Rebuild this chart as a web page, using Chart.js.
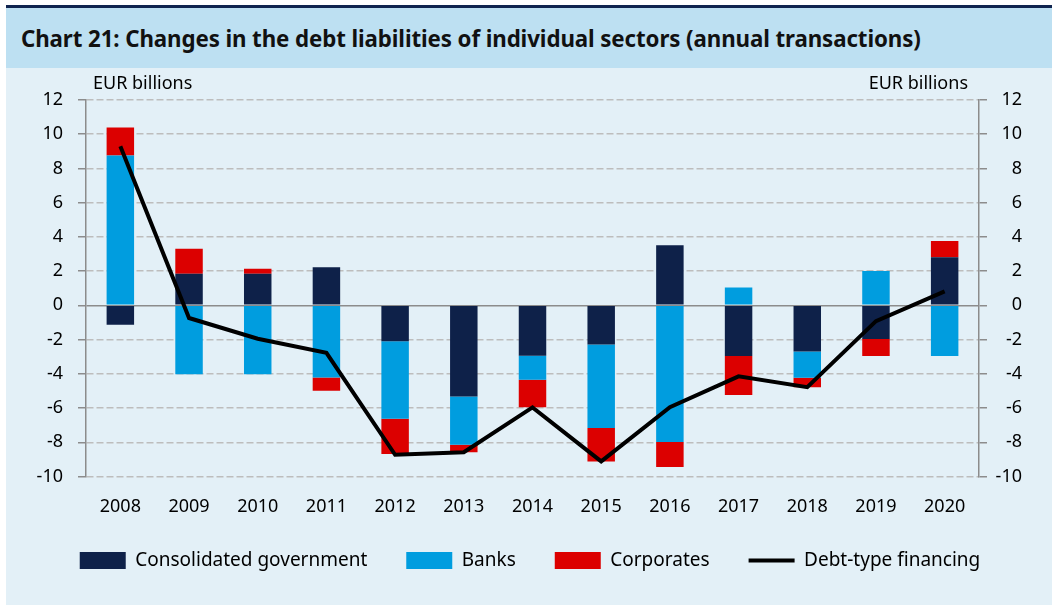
<!DOCTYPE html>
<html>
<head>
<meta charset="utf-8">
<script src="https://cdn.jsdelivr.net/npm/chart.js"></script>
<style>
  body { margin: 0; background: #fff; }
  #panel { position: absolute; left: 6px; top: 5px; width: 1046px; height: 600px; background: #e3f0f7; }
  #topline { height: 3px; background: #10244f; }
  #header { height: 60px; background: #bde0f2; font: bold 22.3px "Noto Sans", sans-serif; line-height: 61px; padding-left: 15px; color: #111; letter-spacing: -0.1px; }
  #wrap { position: relative; height: 537px; }
</style>
</head>
<body>
<div id="panel">
  <div id="topline"></div>
  <div id="header">Chart 21: Changes in the debt liabilities of individual sectors (annual transactions)</div>
  <div id="wrap"><canvas id="chart"></canvas></div>
</div>
<script>
// values, EUR billions
const years = ["2008", "2009", "2010", "2011", "2012", "2013", "2014", "2015", "2016", "2017", "2018", "2019", "2020"];
const government = [-1.13, 1.85, 1.85, 2.22, -2.09, -5.32, -2.94, -2.28, 3.51, -2.96, -2.69, -1.97, 2.81];
const banks = [8.75, -4.03, -4.03, -4.21, -4.54, -2.83, -1.41, -4.89, -7.99, 1.05, -1.54, 2.01, -2.96];
const corporates = [1.64, 1.46, 0.29, -0.78, -2.06, -0.43, -1.61, -1.95, -1.46, -2.28, -0.55, -0.99, 0.95];
const debtFinancing = [9.3, -0.74, -1.95, -2.77, -8.73, -8.58, -5.96, -9.12, -5.95, -4.15, -4.78, -0.92, 0.82];
const yMin = -10, yMax = 12, yStep = 2;

const font = "Noto Sans";

// "EUR billions" captions above both axes
const unitLabels = {
    id: "unitLabels",
    afterDraw(chart) {
        const ctx = chart.ctx;
        ctx.save();
        ctx.font = "18px '" + font + "'";
        ctx.fillStyle = "#000";
        ctx.textBaseline = "middle";
        ctx.textAlign = "left";
        ctx.fillText("EUR billions", 87, 16);
        ctx.textAlign = "right";
        ctx.fillText("EUR billions", 962, 16);
        ctx.restore();
    },
};

// legend sits a little right of centre in the original
const legendShift = {
    id: "legendShift",
    afterLayout(chart) {
        chart.legend.left += 16;
        chart.legend.right += 16;
    },
};

const canvas = document.getElementById("chart");

const chart = new Chart(canvas, {
    type: "bar",
    data: {
        labels: years,
        datasets: [
            { label: "Consolidated government", data: government, backgroundColor: "#0e2149", stack: "s", order: 1 },
            { label: "Banks", data: banks, backgroundColor: "#009ddf", stack: "s", order: 1 },
            { label: "Corporates", data: corporates, backgroundColor: "#dc0000", stack: "s", order: 1 },
            {
                type: "line",
                label: "Debt-type financing",
                data: debtFinancing,
                borderColor: "#000",
                backgroundColor: "#000",
                borderWidth: 4,
                pointRadius: 0,
                tension: 0,
                stack: "line",
                order: 0,
            },
        ],
    },
    options: {
        responsive: true,
        maintainAspectRatio: false,
        animation: false,
        datasets: {
            bar: { barPercentage: 0.4, categoryPercentage: 1 },
        },
        layout: { padding: { top: 32, left: 0, right: 30, bottom: 25 } },
        scales: {
            x: {
                stacked: true,
                grid: { display: false },
                border: { display: false },
                ticks: { color: "#000", font: { family: font, size: 18 }, padding: 12 },
                afterFit: (s) => { s.height = 35.5; },
            },
            y: {
                stacked: true,
                position: "left",
                min: yMin,
                max: yMax,
                ticks: { stepSize: yStep, color: "#000", font: { family: font, size: 18 }, padding: 15 },
                grid: {
                    color: (c) => (c.tick && c.tick.value === 0 ? "#8c8c8c" : "#bdbdbd"),
                    lineWidth: 1.5,
                    tickLength: 8,
                    tickColor: "#8c8c8c",
                    tickBorderDash: [],
                },
                border: {
                    display: true,
                    color: "#8c8c8c",
                    width: 1.5,
                    dash: (c) => (c.tick && c.tick.value === 0 ? [] : [7, 3]),
                },
                afterFit: (s) => { s.width = 80; },
            },
            y2: {
                position: "right",
                min: yMin,
                max: yMax,
                ticks: { stepSize: yStep, color: "#000", font: { family: font, size: 18 }, crossAlign: "far" },
                grid: { drawOnChartArea: false, tickLength: 8, color: "#8c8c8c", lineWidth: 1.5 },
                border: { display: true, color: "#8c8c8c", width: 1.5 },
                afterFit: (s) => { s.width = 43; },
            },
        },
        plugins: {
            tooltip: { enabled: false },
            legend: {
                position: "bottom",
                labels: {
                    usePointStyle: true,
                    pointStyleWidth: 46,
                    boxHeight: 17,
                    padding: 39,
                    color: "#000",
                    font: { family: font, size: 19 },
                    generateLabels: (ch) =>
                        ch.data.datasets.map((ds, i) => ({
                            text: ds.label,
                            datasetIndex: i,
                            fillStyle: ds.type === "line" ? "#000" : ds.backgroundColor,
                            strokeStyle: "#000",
                            lineWidth: ds.type === "line" ? 4 : 0,
                            pointStyle: ds.type === "line" ? "line" : "rect",
                            fontColor: "#000",
                        })),
                },
            },
        },
    },
    plugins: [unitLabels, legendShift],
});
</script>
</body>
</html>
